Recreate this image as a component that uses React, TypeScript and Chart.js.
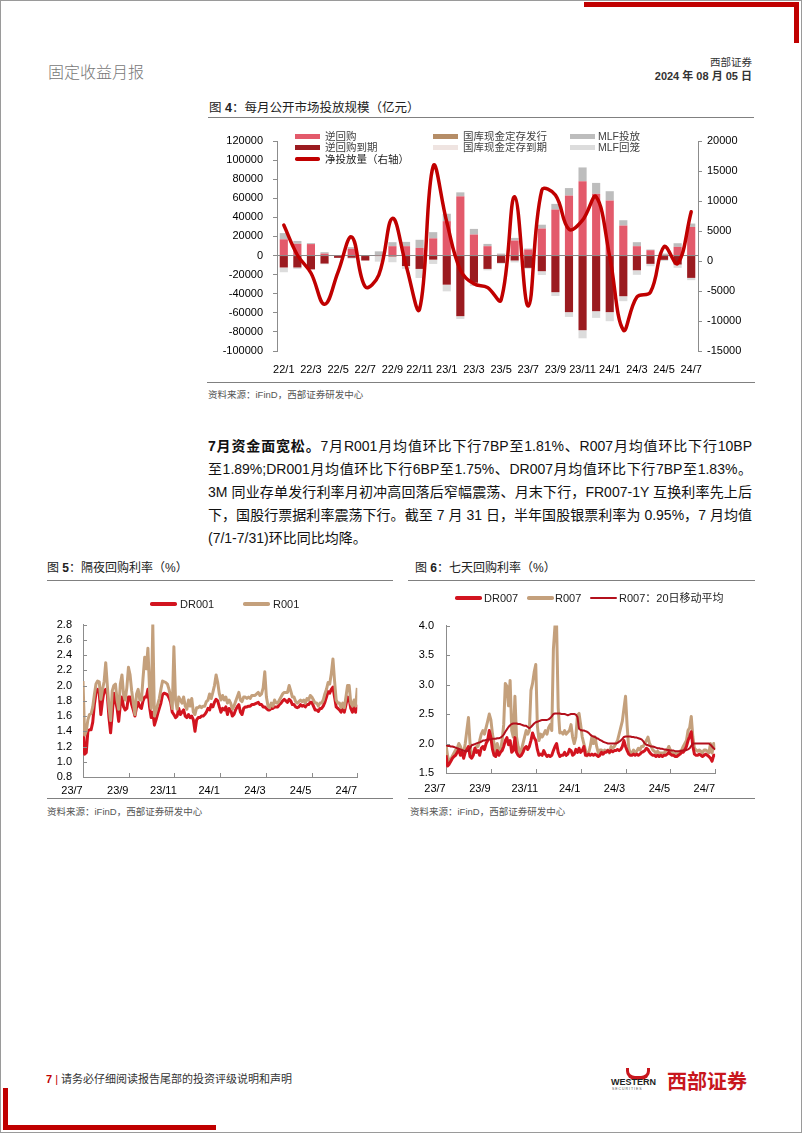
import React, { useEffect, useRef } from "react";
import { Chart, registerables } from "chart.js";

Chart.register(...registerables);

const FONT = "'Liberation Sans', Arial, 'Noto Sans CJK SC', sans-serif";
Chart.defaults.font.family = FONT;

// ---------- Figure 4: monthly open market operations (亿元) ----------
const flowMonths = [
  "22/1", "22/2", "22/3", "22/4", "22/5", "22/6", "22/7", "22/8", "22/9", "22/10", "22/11", "22/12",
  "23/1", "23/2", "23/3", "23/4", "23/5", "23/6", "23/7", "23/8", "23/9", "23/10", "23/11", "23/12",
  "24/1", "24/2", "24/3", "24/4", "24/5", "24/6", "24/7",
];
const reverseRepo = [17000, 12300, 12000, 2000, 400, 7000, 0, 400, 9800, 9800, 8000, 18000, 36000, 62000, 22000, 9800, 800, 15700, 6300, 28300, 48200, 62800, 77800, 64600, 57600, 31400, 9800, 5600, 800, 9100, 30000];
const treasuryIssue = [0, 0, 0, 0, 0, 0, 0, 0, 0, 0, 0, 0, 0, 0, 0, 0, 0, 0, 0, 0, 0, 0, 0, 0, 0, 0, 0, 0, 0, 0, 0];
const mlfInject = [6500, 3000, 1000, 1500, 0, 1800, 0, 4000, 4200, 4500, 8500, 6500, 7800, 4200, 5900, 2400, 1250, 2800, 1000, 4000, 5900, 7890, 14500, 11500, 9800, 5600, 4200, 700, 1250, 3800, 3500];
const reverseRepoMaturity = [-12500, -12500, -14500, -8400, -2400, -2300, -5200, -400, -1000, -11000, -14000, -4300, -30500, -63500, -28500, -14000, -7700, -5200, -12900, -16400, -38400, -59300, -78200, -58300, -59300, -42600, -15400, -8700, -4500, -9400, -23400];
const treasuryMaturity = [0, 0, 0, 0, 0, 0, 0, 0, 0, 0, 0, 0, 0, 0, 0, 0, 0, 0, 0, 0, 0, 0, 0, 0, 0, 0, 0, 0, 0, 0, 0];
const mlfWithdraw = [-5000, -1500, 0, -700, 0, -1000, 0, -6000, -6000, -3000, -9500, -4500, -7000, -2900, -3500, -1500, -1000, -2000, -1000, -4000, -4000, -5000, -8500, -7000, -9500, -5200, -4800, -2500, -1250, -3500, -2400];
const netInjection = [6000, 1000, -2000, -7200, -1800, 4000, -4300, -2300, 7100, -700, -8000, 15800, 6500, -1500, -3800, -4400, -6500, 10700, -7500, 11800, 11000, 5300, 6800, 10700, 700, -11500, -6000, -5200, 2400, -400, 8200];

// ---------- Figures 5 & 6: daily repo rates (%) ----------
const dateTicks = ["23/7", "23/9", "23/11", "24/1", "24/3", "24/5", "24/7"];

const r001 = [
  2.06, 1.35, 1.40, 1.55, 1.62, 1.63, 1.72, 1.88, 2.02, 2.06,
  2.05, 1.82, 1.95, 2.05, 2.30, 2.00, 1.72, 1.54, 1.93, 2.00,
  2.02, 1.81, 1.69, 2.02, 2.14, 1.88, 1.81, 1.97, 2.24, 2.14,
  1.93, 1.77, 1.62, 1.89, 1.95, 1.81, 1.81, 2.10, 2.37, 2.22,
  2.49, 1.95, 1.70, 2.80, 1.60, 1.67, 1.75, 1.83, 1.95, 2.06,
  2.05, 2.04, 2.02, 1.95, 1.85, 1.70, 2.51, 1.81, 1.69, 1.85,
  1.81, 1.77, 1.85, 1.73, 1.69, 1.81, 1.73, 1.83, 1.65, 1.62,
  1.71, 1.71, 1.73, 1.71, 1.73, 1.73, 1.79, 1.81, 1.89, 1.83,
  1.91, 2.00, 2.14, 2.04, 1.89, 1.81, 1.87, 1.81, 1.85, 1.77,
  1.81, 1.77, 1.69, 1.73, 1.79, 1.85, 1.91, 1.81, 1.79, 1.85,
  1.85, 1.83, 1.85, 1.83, 1.87, 1.87, 1.87, 1.89, 1.91, 1.87,
  1.89, 1.97, 2.18, 1.85, 1.73, 1.71, 1.77, 1.73, 1.81, 1.77,
  1.77, 1.81, 1.85, 1.89, 1.91, 1.91, 1.91, 2.00, 1.93, 1.85,
  1.85, 1.79, 1.77, 1.79, 1.81, 1.79, 1.81, 1.77, 1.83, 1.81,
  1.87, 1.85, 1.81, 1.77, 1.77, 1.73, 1.77, 1.77, 1.81, 1.89,
  1.95, 2.04, 2.02, 2.16, 2.35, 2.06, 1.81, 1.77, 1.77, 1.71,
  1.77, 1.71, 1.85, 2.00, 2.00, 1.77, 1.73, 1.81, 1.73, 1.97,
];
const dr001 = [
  1.55, 1.10, 1.12, 1.40, 1.42, 1.42, 1.52, 1.75, 1.90, 1.95,
  1.90, 1.62, 1.80, 1.93, 1.95, 1.88, 1.58, 1.38, 1.62, 1.90,
  1.80, 1.70, 1.53, 1.75, 1.85, 1.72, 1.68, 1.70, 1.85, 1.85,
  1.75, 1.68, 1.60, 1.72, 1.78, 1.72, 1.70, 1.80, 1.85, 1.85,
  1.95, 1.72, 1.58, 1.65, 1.48, 1.55, 1.63, 1.70, 1.77, 1.88,
  1.90, 1.89, 1.88, 1.84, 1.78, 1.65, 1.62, 1.58, 1.60, 1.70,
  1.62, 1.65, 1.68, 1.60, 1.58, 1.62, 1.58, 1.60, 1.55, 1.40,
  1.55, 1.58, 1.58, 1.60, 1.60, 1.62, 1.65, 1.70, 1.68, 1.75,
  1.72, 1.78, 1.82, 1.80, 1.72, 1.65, 1.70, 1.68, 1.72, 1.62,
  1.70, 1.68, 1.60, 1.62, 1.68, 1.72, 1.75, 1.65, 1.62, 1.70,
  1.72, 1.72, 1.73, 1.73, 1.75, 1.75, 1.76, 1.77, 1.78, 1.75,
  1.75, 1.72, 1.72, 1.70, 1.68, 1.68, 1.70, 1.70, 1.72, 1.72,
  1.72, 1.75, 1.77, 1.80, 1.82, 1.80, 1.78, 1.82, 1.80, 1.75,
  1.75, 1.72, 1.71, 1.72, 1.75, 1.73, 1.74, 1.72, 1.75, 1.75,
  1.78, 1.78, 1.73, 1.68, 1.68, 1.66, 1.70, 1.70, 1.73, 1.78,
  1.85, 1.92, 1.90, 1.95, 1.98, 1.85, 1.72, 1.70, 1.68, 1.65,
  1.70, 1.65, 1.75, 1.85, 1.82, 1.70, 1.65, 1.72, 1.65, 1.75,
];

const r007 = [
  1.98, 1.79, 1.68, 1.73, 1.79, 1.84, 1.89, 1.92, 2.00, 1.95,
  1.87, 1.84, 2.00, 2.22, 2.44, 2.00, 1.79, 1.84, 1.87, 1.95,
  1.95, 2.05, 2.16, 2.22, 2.16, 2.27, 2.38, 2.50, 2.40, 2.16,
  2.00, 1.84, 2.00, 1.84, 1.89, 2.05, 2.32, 3.02, 2.97, 2.64,
  3.07, 2.22, 2.11, 2.80, 2.11, 1.95, 1.84, 1.89, 2.00, 2.11,
  2.22, 2.16, 2.22, 2.90, 3.02, 3.21, 3.34, 2.30, 2.05, 2.16,
  2.11, 2.16, 2.22, 2.16, 2.27, 2.32, 2.22, 3.60, 4.00, 4.00,
  2.60, 2.18, 2.19, 2.16, 2.22, 2.16, 2.19, 2.22, 2.32, 2.11,
  2.00, 2.11, 2.48, 2.51, 2.32, 2.11, 2.00, 1.89, 1.79, 1.84,
  1.95, 2.11, 2.00, 2.11, 1.95, 1.84, 1.89, 1.89, 1.84, 1.89,
  1.87, 1.89, 1.84, 1.95, 1.92, 1.95, 2.00, 2.05, 2.16, 2.27,
  2.38, 2.59, 2.80, 2.30, 1.92, 1.84, 1.84, 1.89, 1.84, 1.87,
  1.92, 1.89, 1.95, 1.95, 2.00, 2.05, 2.11, 2.00, 1.95, 1.89,
  1.87, 1.84, 1.87, 1.84, 1.84, 1.84, 1.84, 1.87, 1.89, 1.95,
  1.89, 1.84, 1.84, 1.84, 1.81, 1.84, 1.87, 1.89, 1.95, 2.00,
  2.05, 2.22, 2.27, 2.46, 2.11, 1.92, 1.89, 1.87, 1.89, 1.87,
  1.84, 1.89, 1.89, 1.87, 1.84, 2.00, 1.84, 2.00, 1.89,
];
const dr007 = [
  1.80, 1.62, 1.65, 1.70, 1.75, 1.78, 1.80, 1.85, 1.90, 1.80,
  1.86, 1.75, 1.85, 1.90, 1.95, 1.78, 1.75, 1.80, 1.92, 1.85,
  1.88, 1.80, 1.92, 1.95, 1.90, 2.00, 2.05, 2.22, 2.10, 1.90,
  1.80, 1.78, 1.88, 1.80, 1.85, 1.88, 1.95, 2.05, 2.10, 1.98,
  2.05, 1.85, 1.88, 2.10, 1.85, 1.80, 1.78, 1.80, 1.85, 1.92,
  1.95, 1.90, 1.95, 2.05, 2.18, 2.10, 2.05, 1.90, 1.80, 1.82,
  1.80, 1.88, 1.82, 1.78, 1.80, 1.78, 1.80, 1.88, 1.95, 2.00,
  1.85, 1.78, 1.80, 1.80, 1.85, 1.80, 1.82, 1.90, 1.88, 1.80,
  1.82, 1.90, 1.85, 1.92, 1.85, 1.88, 1.95, 1.80, 1.80, 1.82,
  1.80, 1.82, 1.80, 1.82, 1.80, 1.78, 1.80, 1.85, 1.82, 1.85,
  1.85, 1.88, 1.85, 1.88, 1.86, 1.88, 1.88, 1.90, 1.88, 1.90,
  1.95, 2.05, 1.95, 1.88, 1.82, 1.80, 1.80, 1.82, 1.80, 1.82,
  1.80, 1.82, 1.85, 1.86, 1.88, 1.92, 1.90, 1.85, 1.82, 1.80,
  1.80, 1.78, 1.80, 1.78, 1.80, 1.78, 1.80, 1.80, 1.82, 1.85,
  1.82, 1.80, 1.80, 1.78, 1.78, 1.80, 1.82, 1.85, 1.85, 1.90,
  1.95, 2.05, 2.12, 2.20, 1.95, 1.82, 1.80, 1.80, 1.82, 1.80,
  1.78, 1.80, 1.82, 1.80, 1.78, 1.75, 1.70, 1.80, 1.80,
];
const r007ma20 = [
  1.97, 1.96, 1.96, 1.95, 1.95, 1.94, 1.93, 1.92, 1.91, 1.90,
  1.89, 1.88, 1.87, 1.87, 1.88, 1.92, 1.97, 1.98, 1.99, 2.00,
  2.01, 2.02, 2.03, 2.05, 2.05, 2.06, 2.07, 2.07, 2.07, 2.08,
  2.08, 2.08, 2.09, 2.09, 2.10, 2.12, 2.15, 2.20, 2.24, 2.28,
  2.31, 2.33, 2.34, 2.34, 2.34, 2.33, 2.33, 2.32, 2.31, 2.30,
  2.30, 2.28, 2.26, 2.28, 2.31, 2.34, 2.36, 2.37, 2.38, 2.39,
  2.40, 2.40, 2.40, 2.40, 2.41, 2.43, 2.46, 2.50, 2.51, 2.51,
  2.51, 2.51, 2.50, 2.50, 2.50, 2.49, 2.48, 2.49, 2.50, 2.50,
  2.50, 2.49, 2.45, 2.25, 2.23, 2.22, 2.22, 2.21, 2.20, 2.18,
  2.15, 2.13, 2.12, 2.11, 2.09, 2.08, 2.06, 2.05, 2.03, 2.02,
  2.01, 2.00, 2.00, 2.00, 2.00, 2.00, 2.00, 2.01, 2.03, 2.05,
  2.08, 2.11, 2.12, 2.12, 2.12, 2.12, 2.11, 2.11, 2.10, 2.10,
  2.09, 2.08, 2.07, 2.04, 2.00, 1.98, 1.97, 1.96, 1.95, 1.95,
  1.94, 1.93, 1.92, 1.92, 1.91, 1.91, 1.90, 1.90, 1.89, 1.89,
  1.88, 1.88, 1.88, 1.87, 1.87, 1.87, 1.87, 1.88, 1.88, 1.88,
  1.89, 1.90, 1.92, 1.96, 2.00, 2.00, 2.00, 2.00, 2.00, 2.00,
  2.00, 2.00, 2.00, 2.00, 2.00, 1.98, 1.95, 1.92, 1.90,
];

const AXIS_GREY = "#8c8c8c";
const RED = "#D2141F";
const TAN = "#C4A07C";
const MA_RED = "#B3101C";

// ---------- chart components ----------
function FlowChart() {
  const ref = useRef<HTMLCanvasElement | null>(null);
  useEffect(() => {
    if (!ref.current) return;
    const chart = new Chart(ref.current, {
      type: "bar",
      data: {
        labels: flowMonths,
        datasets: [
          {
            type: "line", label: "净投放量（右轴）", data: netInjection, yAxisID: "y1",
            borderColor: "#C00000", backgroundColor: "#C00000", borderWidth: 3.5, pointRadius: 0,
            tension: 0.4, order: 0, borderCapStyle: "round", borderJoinStyle: "round",
          } as any,
          { label: "逆回购", data: reverseRepo, backgroundColor: "#E35A6B", yAxisID: "y", stack: "flow", order: 1 },
          { label: "国库现金定存发行", data: treasuryIssue, backgroundColor: "#B58D67", yAxisID: "y", stack: "flow", order: 1 },
          { label: "MLF投放", data: mlfInject, backgroundColor: "#BDBDBD", yAxisID: "y", stack: "flow", order: 1 },
          { label: "逆回购到期", data: reverseRepoMaturity, backgroundColor: "#9B1B20", yAxisID: "y", stack: "flow", order: 1 },
          { label: "国库现金定存到期", data: treasuryMaturity, backgroundColor: "#EFE4E1", yAxisID: "y", stack: "flow", order: 1 },
          { label: "MLF回笼", data: mlfWithdraw, backgroundColor: "#DCDCDC", yAxisID: "y", stack: "flow", order: 1 },
        ],
      },
      options: {
        animation: false,
        responsive: false,
        maintainAspectRatio: false,
        layout: { padding: { top: 19, left: 0, right: 0, bottom: 0 } },
        plugins: { legend: { display: false }, tooltip: { enabled: false } },
        datasets: { bar: { barPercentage: 0.6, categoryPercentage: 1 } } as any,
        scales: {
          x: {
            stacked: true,
            grid: { display: false },
            border: { display: false },
            ticks: {
              autoSkip: false, maxRotation: 0, padding: 4, color: "#000", font: { size: 11 },
              callback: (_v: any, i: number) => (i % 2 === 0 ? flowMonths[i] : ""),
            },
            afterFit: (s: any) => { s.height = 23; },
          },
          y: {
            stacked: true, min: -100000, max: 120000,
            ticks: { stepSize: 20000, autoSkip: false, padding: 10, color: "#000", font: { size: 11 }, callback: (v: any) => String(v) },
            grid: {
              drawOnChartArea: true, tickLength: 4, tickColor: AXIS_GREY,
              color: (c: any) => (c.tick && c.tick.value === 0 ? "#8a8a8a" : "rgba(0,0,0,0)"),
            },
            border: { color: AXIS_GREY },
            afterFit: (s: any) => { s.width = 70; },
          },
          y1: {
            position: "right", min: -15000, max: 20000,
            ticks: { stepSize: 5000, autoSkip: false, padding: 5, color: "#000", font: { size: 11 }, callback: (v: any) => String(v) },
            grid: { drawOnChartArea: false, tickLength: 4, tickColor: AXIS_GREY },
            border: { color: AXIS_GREY },
            afterFit: (s: any) => { s.width = 55; },
          },
        },
      } as any,
    });
    return () => chart.destroy();
  }, []);
  return (
    <canvas ref={ref} width={546} height={252}
      style={{ position: "absolute", left: 207, top: 122, width: 546, height: 252 }} />
  );
}

const innerTicks = {
  id: "innerTicks",
  afterDraw(chart: any) {
    const { ctx, chartArea, scales } = chart;
    ctx.save();
    ctx.strokeStyle = AXIS_GREY;
    ctx.lineWidth = 1;
    scales.y.ticks.forEach((t: any) => {
      const y = Math.round(scales.y.getPixelForValue(t.value)) + 0.5;
      ctx.beginPath(); ctx.moveTo(chartArea.left, y); ctx.lineTo(chartArea.left + 4, y); ctx.stroke();
    });
    scales.x.ticks.forEach((t: any) => {
      const x = Math.round(scales.x.getPixelForValue(t.value)) + 0.5;
      ctx.beginPath(); ctx.moveTo(x, chartArea.bottom); ctx.lineTo(x, chartArea.bottom - 4); ctx.stroke();
    });
    ctx.restore();
  },
};

type Series = { label: string; data: number[]; color: string; width: number };

function RateChart(props: {
  left: number; top: number; width: number; height: number; series: Series[];
  yMin: number; yMax: number; yStep: number; yAxisWidth: number; padTop: number; padRight: number;
  xHeight: number; xPad: number; yPad: number;
}) {
  const ref = useRef<HTMLCanvasElement | null>(null);
  useEffect(() => {
    if (!ref.current) return;
    const n = props.series[0].data.length;
    const chart = new Chart(ref.current, {
      type: "line",
      data: {
        datasets: props.series.map((s) => ({
          label: s.label,
          data: s.data.map((y, i) => ({ x: i, y })),
          borderColor: s.color,
          backgroundColor: s.color,
          borderWidth: s.width,
          pointRadius: 0,
          tension: 0,
          borderJoinStyle: "round",
          fill: false,
        })),
      },
      options: {
        animation: false,
        responsive: false,
        maintainAspectRatio: false,
        layout: { padding: { top: props.padTop, right: props.padRight, left: 0, bottom: 0 } },
        plugins: { legend: { display: false }, tooltip: { enabled: false } },
        scales: {
          x: {
            type: "linear", min: 0, max: n - 1,
            afterBuildTicks: (s: any) => {
              s.ticks = dateTicks.map((_, j) => ({ value: ((n - 1) * j) / (dateTicks.length - 1) }));
            },
            ticks: {
              autoSkip: false, maxRotation: 0, padding: props.xPad, labelOffset: -11,
              color: "#000", font: { size: 11 },
              callback: (_v: any, i: number) => dateTicks[i],
            },
            grid: { drawOnChartArea: false, drawTicks: false },
            border: { color: AXIS_GREY },
            afterFit: (s: any) => { s.height = props.xHeight; },
          },
          y: {
            min: props.yMin, max: props.yMax,
            ticks: {
              stepSize: props.yStep, autoSkip: false, padding: props.yPad, color: "#000", font: { size: 11 },
              callback: (v: any) => Number(v).toFixed(1),
            },
            grid: { drawOnChartArea: false, drawTicks: false },
            border: { color: AXIS_GREY },
            afterFit: (s: any) => { s.width = props.yAxisWidth; },
          },
        },
      } as any,
      plugins: [innerTicks as any],
    });
    return () => chart.destroy();
  }, []);
  return (
    <canvas ref={ref} width={props.width} height={props.height}
      style={{ position: "absolute", left: props.left, top: props.top, width: props.width, height: props.height }} />
  );
}

// ---------- page helpers ----------
function Txt(p: { x: number; cy: number; size: number; color?: string; weight?: any; w?: number; align?: any; children: any }) {
  return (
    <div style={{
      position: "absolute", left: p.x, top: p.cy - p.size / 2, fontSize: p.size, lineHeight: `${p.size}px`,
      color: p.color || "#333", fontWeight: p.weight || 400, whiteSpace: "nowrap", fontFamily: FONT,
      width: p.w, textAlign: p.align,
    }}>{p.children}</div>
  );
}
function Box(p: { x: number; y: number; w: number; h: number; c: string; r?: number }) {
  return <div style={{ position: "absolute", left: p.x, top: p.y, width: p.w, height: p.h, background: p.c, borderRadius: p.r || 0 }} />;
}
function RectKey(p: { x: number; cy: number; c: string; label: string; tx: number; size?: number }) {
  return (
    <>
      <Box x={p.x} y={p.cy - 2.5} w={25} h={5} c={p.c} />
      <Txt x={p.tx} cy={p.cy} size={p.size || 10.5} color="#404040">{p.label}</Txt>
    </>
  );
}
function LineKey(p: { x: number; w: number; cy: number; c: string; t: number; label: any; tx: number; size?: number }) {
  return (
    <>
      <Box x={p.x} y={p.cy - p.t / 2} w={p.w} h={p.t} c={p.c} r={p.t / 2} />
      <Txt x={p.tx} cy={p.cy} size={p.size || 11} color="#222">{p.label}</Txt>
    </>
  );
}
function ParaLine(p: { cy: number; last?: boolean; children: any }) {
  return (
    <div style={{
      position: "absolute", left: 208, top: p.cy - 11.5, width: 544, height: 23, fontSize: 14, lineHeight: "23px",
      fontFamily: FONT, color: "#111", whiteSpace: "nowrap", textAlign: p.last ? "left" : "justify",
      textAlignLast: p.last ? "left" : "justify",
    } as any}>{p.children}</div>
  );
}

export default function App() {
  return (
    <div style={{ position: "absolute", left: 0, top: 0, width: 802, height: 1133, background: "#fff", overflow: "hidden", fontFamily: FONT }}>
      {/* frame */}
      <div style={{ position: "absolute", left: 0, top: 0, width: 802, height: 1133, border: "1px solid #9a9a9a", boxSizing: "border-box" }} />
      {/* header decorations */}
      <Box x={584} y={2} w={215} h={5} c="#C00000" />
      <Box x={794} y={2} w={5} h={41} c="#C00000" />
      <Txt x={48} cy={73} size={16} color="#777" weight={300}>固定收益月报</Txt>
      <Txt x={600} cy={62} size={10.5} color="#333" w={152} align="right">西部证券</Txt>
      <Txt x={600} cy={76} size={11} color="#333" weight={700} w={152} align="right">2024 年 08 月 05 日</Txt>

      {/* Figure 4 */}
      <Txt x={209} cy={108} size={12.5} color="#222">图 <b>4</b>：每月公开市场投放规模（亿元）</Txt>
      <Box x={208} y={117} w={546} h={1} c="#808080" />
      <FlowChart />
      <RectKey x={295} cy={136} c="#E35A6B" tx={325} label="逆回购" />
      <RectKey x={295} cy={147.5} c="#9B1B20" tx={325} label="逆回购到期" />
      <LineKey x={295} w={25} cy={159} c="#C00000" t={3.5} tx={325} label="净投放量（右轴）" size={10.5} />
      <RectKey x={433} cy={136} c="#B58D67" tx={463} label="国库现金定存发行" />
      <RectKey x={433} cy={147.5} c="#EFE4E1" tx={463} label="国库现金定存到期" />
      <RectKey x={570} cy={136} c="#BDBDBD" tx={598} label="MLF投放" />
      <RectKey x={570} cy={147.5} c="#DCDCDC" tx={598} label="MLF回笼" />
      <Box x={207} y={382} w={548} h={1} c="#808080" />
      <Txt x={208} cy={395} size={9.5} color="#555">资料来源：iFinD，西部证券研发中心</Txt>

      {/* paragraph */}
      <ParaLine cy={446}><b>7月资金面宽松。</b>7月R001月均值环比下行7BP至1.81%、R007月均值环比下行10BP</ParaLine>
      <ParaLine cy={469}>至1.89%;DR001月均值环比下行6BP至1.75%、DR007月均值环比下行7BP至1.83%。</ParaLine>
      <ParaLine cy={492}>3M 同业存单发行利率月初冲高回落后窄幅震荡、月末下行，FR007-1Y 互换利率先上后</ParaLine>
      <ParaLine cy={515}>下，国股行票据利率震荡下行。截至 7 月 31 日，半年国股银票利率为 0.95%，7 月均值</ParaLine>
      <ParaLine cy={538} last>(7/1-7/31)环比同比均降。</ParaLine>

      {/* Figure 5 */}
      <Txt x={47} cy={568} size={12} color="#222">图 <b>5</b>：隔夜回购利率（%）</Txt>
      <Box x={47} y={580} w={346} h={1} c="#808080" />
      <RateChart left={40} top={607} width={335} height={191}
        series={[
          { label: "R001", data: r001, color: TAN, width: 3 },
          { label: "DR001", data: dr001, color: RED, width: 3 },
        ]}
        yMin={0.8} yMax={2.8} yStep={0.2} yAxisWidth={43} padTop={8} padRight={10} xHeight={21} xPad={7} yPad={11} />
      <LineKey x={150} w={27} cy={604} c={RED} t={3.5} tx={180} label="DR001" />
      <LineKey x={243} w={27} cy={604} c={TAN} t={3.5} tx={273} label="R001" />
      <Box x={47} y={798} w={346} h={1} c="#808080" />
      <Txt x={47} cy={812} size={9.5} color="#555">资料来源：iFinD，西部证券研发中心</Txt>

      {/* Figure 6 */}
      <Txt x={415} cy={568} size={12} color="#222">图 <b>6</b>：七天回购利率（%）</Txt>
      <Box x={408} y={580} w={347} h={1} c="#808080" />
      <RateChart left={400} top={607} width={335} height={191}
        series={[
          { label: "R007：20日移动平均", data: r007ma20, color: MA_RED, width: 2 },
          { label: "DR007", data: dr007, color: RED, width: 3 },
          { label: "R007", data: r007, color: TAN, width: 3 },
        ]}
        yMin={1.5} yMax={4.0} yStep={0.5} yAxisWidth={46} padTop={10} padRight={7} xHeight={25} xPad={9} yPad={12} />
      <LineKey x={455} w={27} cy={598} c={RED} t={3.5} tx={484} label="DR007" />
      <LineKey x={527} w={27} cy={598} c={TAN} t={3.5} tx={555} label="R007" />
      <LineKey x={590} w={27} cy={598} c={MA_RED} t={2} tx={619} label="R007：20日移动平均" />
      <Box x={408} y={798} w={347} h={1} c="#808080" />
      <Txt x={410} cy={812} size={9.5} color="#555">资料来源：iFinD，西部证券研发中心</Txt>

      {/* footer */}
      <Txt x={46} cy={1079} size={11} color="#333">
        <span style={{ color: "#C00000", fontWeight: 700 }}>7</span>
        <span style={{ color: "#C00000" }}> | </span>请务必仔细阅读报告尾部的投资评级说明和声明
      </Txt>
      <div style={{ position: "absolute", left: 626, top: 1068, width: 18, height: 8, borderLeft: "3px solid #C8161D", borderRight: "3px solid #C8161D", borderBottom: "4px solid #C8161D", borderRadius: "0 0 9px 9px" }} />
      <Txt x={611} cy={1082} size={9} color="#222" weight={700}>WESTERN</Txt>
      <Txt x={612} cy={1090} size={3.5} color="#555">S E C U R I T I E S</Txt>
      <Txt x={667} cy={1082} size={20} color="#C8161D" weight={700}>西部证券</Txt>
      <Box x={3} y={1088} w={5} h={42} c="#C00000" />
      <Box x={3} y={1125} w={213} h={5} c="#C00000" />
    </div>
  );
}
